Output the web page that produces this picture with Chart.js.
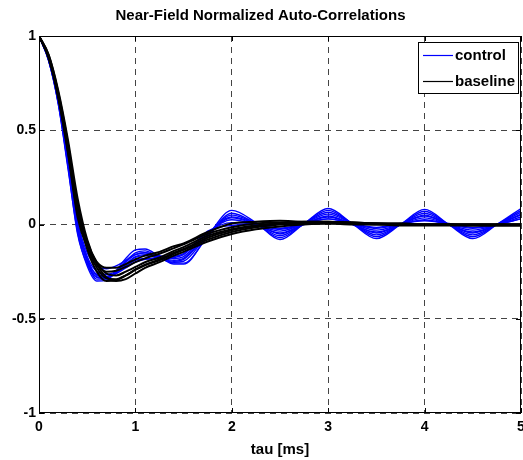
<!DOCTYPE html>
<html>
<head>
<meta charset="utf-8">
<script src="https://cdn.jsdelivr.net/npm/chart.js@4/dist/chart.umd.min.js"></script>
<style>
  html, body { margin: 0; padding: 0; background: #fff; }
  #wrap { width: 523px; height: 460px; }
</style>
</head>
<body>
<div id="wrap"><canvas id="acf-canvas" width="523" height="460"></canvas></div>
<script>
// lag axis (ms)
var tau = [0, 0.1, 0.2, 0.3, 0.4, 0.5, 0.6, 0.7, 0.8, 0.9, 1.0, 1.1, 1.25, 1.4, 1.5, 1.75,
           2.0, 2.25, 2.5, 2.75, 3.0, 3.25, 3.5, 3.75, 4.0, 4.25, 4.5, 4.75, 5.0];

// controlled runs (blue)
var control1 = [1, .87, .64, .3, -.04, -.22, -.3, -.295, -.245, -.18, -.135, -.13, -.17, -.21, -.21, -.06, .075, .01, -.08, .005, .085, .005, -.075, 0, .08, 0, -.075, 0, .085];
var control2 = [1, .87, .65, .32, -.02, -.2, -.29, -.29, -.25, -.195, -.15, -.14, -.175, -.205, -.205, -.065, .06, .005, -.07, .005, .075, .005, -.065, 0, .07, 0, -.065, 0, .075];
var control3 = [1, .88, .66, .34, 0, -.19, -.28, -.285, -.25, -.2, -.16, -.15, -.18, -.2, -.195, -.055, .05, .005, -.06, .005, .065, .005, -.055, 0, .06, 0, -.055, 0, .065];
var control4 = [1, .88, .66, .33, -.01, -.18, -.27, -.28, -.255, -.21, -.17, -.16, -.175, -.19, -.18, -.05, .04, .005, -.05, .005, .055, .005, -.045, 0, .05, 0, -.045, 0, .055];
var control5 = [1, .87, .64, .31, -.05, -.21, -.28, -.285, -.26, -.215, -.175, -.165, -.18, -.195, -.185, -.055, .035, 0, -.045, 0, .045, 0, -.04, 0, .045, 0, -.04, 0, .05];
var control6 = [1, .88, .67, .36, .02, -.15, -.22, -.235, -.22, -.19, -.16, -.15, -.165, -.18, -.17, -.045, .025, 0, -.035, .005, .04, .005, -.03, 0, .035, 0, -.03, 0, .04];
var control7 = [1, .88, .66, .35, .01, -.17, -.25, -.265, -.25, -.22, -.19, -.18, -.18, -.175, -.16, -.04, .01, 0, -.025, .005, .03, .005, -.02, 0, .025, 0, -.02, 0, .03];
var control8 = [1, .875, .65, .33, -.02, -.19, -.265, -.275, -.26, -.23, -.2, -.185, -.18, -.17, -.155, -.035, -.005, 0, -.02, .005, .03, .005, -.015, .005, .02, .005, -.015, 0, .03];

// baseline runs (black)
var baseline1 = [1, .9, .71, .45, .14, -.08, -.21, -.28, -.3, -.29, -.26, -.23, -.2, -.165, -.145, -.09, -.05, -.025, -.01, 0, .005, .005, 0, 0, 0, 0, 0, 0, 0];
var baseline2 = [1, .9, .7, .43, .1, -.11, -.23, -.285, -.29, -.27, -.24, -.215, -.19, -.155, -.135, -.08, -.04, -.015, 0, .005, .01, .005, .005, 0, 0, 0, 0, 0, 0];
var baseline3 = [1, .89, .69, .41, .08, -.13, -.25, -.3, -.295, -.27, -.24, -.215, -.185, -.15, -.13, -.07, -.03, -.01, .005, .01, .01, .01, .005, .005, 0, 0, 0, 0, 0];
var baseline4 = [1, .89, .68, .39, .06, -.12, -.21, -.25, -.245, -.225, -.2, -.18, -.155, -.125, -.105, -.05, -.015, .005, .01, .015, .015, .01, .005, .005, 0, 0, 0, 0, 0];
var baseline5 = [1, .88, .67, .38, .04, -.12, -.2, -.23, -.23, -.21, -.185, -.165, -.145, -.115, -.1, -.04, .005, .015, .02, .015, .015, .01, .005, 0, 0, 0, -.005, -.005, -.005];
var baseline6 = [1, .89, .69, .42, .11, -.09, -.2, -.26, -.27, -.25, -.225, -.2, -.175, -.14, -.12, -.06, -.025, -.005, .005, .005, .005, 0, 0, -.005, -.005, -.005, -.005, -.005, -.005];

var xTicks = [0, 1, 2, 3, 4, 5];
var xTickLabels = ["0", "1", "2", "3", "4", "5"];
var yTicks = [-1, -0.5, 0, 0.5, 1];
var yTickLabels = ["-1", "-0.5", "0", "0.5", "1"];

var controlRuns = [control1, control2, control3, control4, control5, control6, control7, control8];
var baselineRuns = [baseline1, baseline2, baseline3, baseline4, baseline5, baseline6];

var FONT = "'Liberation Sans', Arial, Helvetica, sans-serif";

function toPoints(vals) {
    return vals.map(function(v, i) { return {x: tau[i], y: v}; });
}

var datasets = [];
controlRuns.forEach(function(run, i) {
    datasets.push({
        label: i === 0 ? "control" : "",
        data: toPoints(run),
        borderColor: "#0000ff",
        borderWidth: 1.4,
        order: 1
    });
});
baselineRuns.forEach(function(run, i) {
    datasets.push({
        label: i === 0 ? "baseline" : "",
        data: toPoints(run),
        borderColor: "#000000",
        borderWidth: 2,
        order: 0
    });
});

// box round the axes, inward tick marks and the legend in the corner
var axesBox = {
    id: "axesBox",
    afterDraw: function(chart) {
        var ctx = chart.ctx, a = chart.chartArea;
        var xs = chart.scales.x, ys = chart.scales.y;
        ctx.save();
        ctx.strokeStyle = "#000";
        ctx.lineWidth = 1;
        ctx.strokeRect(Math.round(a.left) + 0.5, Math.round(a.top) + 0.5,
                       Math.round(a.right - a.left) - 1, Math.round(a.bottom - a.top) - 1);
        ctx.beginPath();
        xTicks.forEach(function(t) {
            var px = Math.round(xs.getPixelForValue(t)) + 0.5;
            ctx.moveTo(px, a.bottom); ctx.lineTo(px, a.bottom - 5);
            ctx.moveTo(px, a.top); ctx.lineTo(px, a.top + 5);
        });
        yTicks.forEach(function(t) {
            var py = Math.round(ys.getPixelForValue(t)) + 0.5;
            ctx.moveTo(a.left, py); ctx.lineTo(a.left + 5, py);
            ctx.moveTo(a.right, py); ctx.lineTo(a.right - 5, py);
        });
        ctx.stroke();

        // legend
        var lx = a.right - 103, ly = a.top + 6, lw = 100, lh = 51;
        ctx.fillStyle = "#fff";
        ctx.fillRect(lx, ly, lw, lh);
        ctx.strokeRect(lx + 0.5, ly + 0.5, lw, lh);
        var entries = [
            {text: "control", color: "#0000ff", y: ly + 13},
            {text: "baseline", color: "#000000", y: ly + 39}
        ];
        ctx.font = "bold 15px " + FONT;
        ctx.textBaseline = "middle";
        entries.forEach(function(e) {
            ctx.strokeStyle = e.color;
            ctx.lineWidth = 1.2;
            ctx.beginPath();
            ctx.moveTo(lx + 5, e.y + 0.5);
            ctx.lineTo(lx + 35, e.y + 0.5);
            ctx.stroke();
            ctx.fillStyle = "#000";
            ctx.fillText(e.text, lx + 37, e.y + 1);
        });
        ctx.restore();
    }
};

var chart = new Chart(document.getElementById("acf-canvas"), {
    type: "line",
    data: { datasets: datasets },
    options: {
        responsive: false,
        animation: false,
        layout: { padding: { left: 0, right: 2, top: 0, bottom: 0 } },
        elements: {
            point: { radius: 0 },
            line: { cubicInterpolationMode: "monotone" }
        },
        plugins: {
            legend: { display: false },
            tooltip: { enabled: false },
            title: {
                display: true,
                text: "Near-Field Normalized Auto-Correlations",
                color: "#000",
                font: { family: FONT, size: 15, weight: "bold" },
                padding: { top: 7, bottom: 11 }
            }
        },
        scales: {
            x: {
                type: "linear",
                min: 0,
                max: 5,
                afterBuildTicks: function(scale) {
                    scale.ticks = xTicks.map(function(v) { return {value: v}; });
                },
                afterFit: function(scale) {
                    scale.height = 47;
                    scale.paddingLeft = 0;
                    scale.paddingRight = 0;
                },
                ticks: {
                    color: "#000",
                    padding: 6,
                    maxRotation: 0,
                    font: { family: FONT, size: 14, weight: "bold" },
                    callback: function(v) { return xTickLabels[xTicks.indexOf(v)]; }
                },
                grid: { color: "#444", lineWidth: 1, drawTicks: false },
                border: { display: false, dash: [6, 5] },
                title: {
                    display: true,
                    text: "tau [ms]",
                    color: "#000",
                    font: { family: FONT, size: 15, weight: "bold" },
                    padding: { top: 5, bottom: 1 }
                }
            },
            y: {
                type: "linear",
                min: -1,
                max: 1,
                afterBuildTicks: function(scale) {
                    scale.ticks = yTicks.map(function(v) { return {value: v}; });
                },
                afterFit: function(scale) {
                    scale.width = 39;
                    scale.paddingTop = 0;
                    scale.paddingBottom = 0;
                },
                ticks: {
                    color: "#000",
                    padding: 3,
                    font: { family: FONT, size: 14, weight: "bold" },
                    callback: function(v) { return yTickLabels[yTicks.indexOf(v)]; }
                },
                grid: { color: "#444", lineWidth: 1, drawTicks: false },
                border: { display: false, dash: [6, 5] }
            }
        }
    },
    plugins: [axesBox]
});
</script>
</body>
</html>
